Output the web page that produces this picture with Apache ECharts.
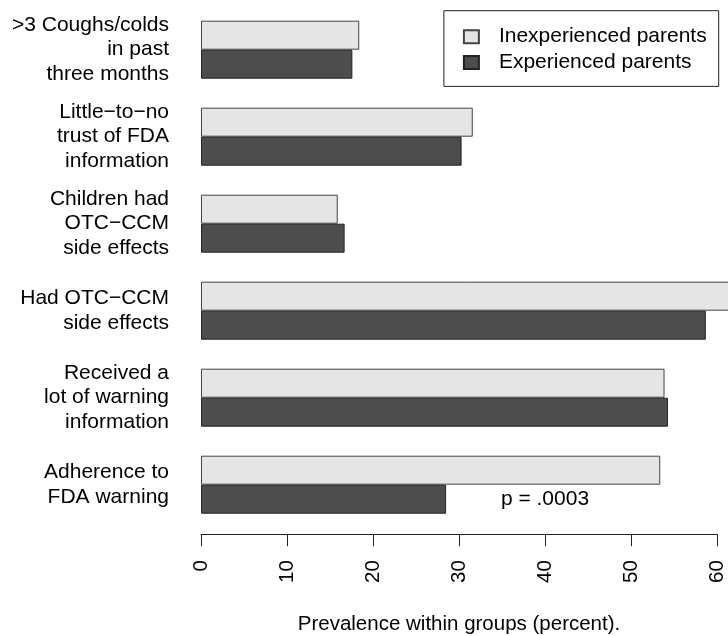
<!DOCTYPE html>
<html>
<head>
<meta charset="utf-8">
<script src="https://cdn.jsdelivr.net/npm/echarts@6/dist/echarts.min.js"></script>
<style>
html,body{margin:0;padding:0;background:#fff;}
#chart{width:728px;height:636px;}
</style>
</head>
<body>
<div id="chart"></div>
<script>
var categories = [
  '>3 Coughs/colds\nin past\nthree months',
  'Little\u2212to\u2212no\ntrust of FDA\ninformation',
  'Children had\nOTC\u2212CCM\nside effects',
  'Had OTC\u2212CCM\nside effects',
  'Received a\nlot of warning\ninformation',
  'Adherence to\nFDA warning'
];
var seriesNames = ['Inexperienced parents', 'Experienced parents'];
var inexperienced = [18.4, 31.6, 15.9, 63.0, 53.9, 53.4];
var experienced = [17.6, 30.3, 16.7, 58.7, 54.3, 28.5];
var xTicks = [0, 10, 20, 30, 40, 50, 60];
var annotationText = 'p = .0003';
var annotationX = 40;

var FONT = '"Liberation Sans", Arial, Helvetica, sans-serif';
var chart = echarts.init(document.getElementById('chart'), null, {renderer: 'canvas'});

var option = {
  backgroundColor: '#ffffff',
  animation: false,
  textStyle: {fontFamily: FONT, color: '#000'},
  grid: {left: 201, right: 11, top: 6.2, height: 522, containLabel: false, outerBoundsMode: 'none'},
  legend: {
    data: seriesNames,
    icon: 'rect',
    orient: 'vertical',
    right: 9.3,
    top: 10.7,
    padding: [14, 12, 12, 19],
    itemGap: 1.7,
    itemWidth: 15,
    itemHeight: 13,
    borderColor: '#222',
    borderWidth: 1,
    backgroundColor: '#fff',
    textStyle: {fontFamily: FONT, fontSize: 21, color: '#000', lineHeight: 24, padding: [0, 0, 0, 15]}
  },
  xAxis: {
    type: 'value',
    min: xTicks[0],
    max: xTicks[xTicks.length - 1],
    interval: 10,
    offset: 6,
    splitLine: {show: false},
    axisLine: {show: true, lineStyle: {color: '#222', width: 1}},
    axisTick: {show: true, length: 12, lineStyle: {color: '#222', width: 1}},
    axisLabel: {rotate: 90, margin: 26, fontFamily: FONT, fontSize: 20.5, color: '#000'},
    name: 'Prevalence within groups (percent).',
    nameLocation: 'middle',
    nameGap: 80,
    nameTextStyle: {fontFamily: FONT, fontSize: 20.5, color: '#000'}
  },
  yAxis: {
    type: 'category',
    data: categories,
    inverse: true,
    axisLine: {show: false},
    axisTick: {show: false},
    splitLine: {show: false},
    axisLabel: {margin: 32, fontFamily: FONT, fontSize: 21, color: '#000', lineHeight: 24.5, align: 'right'}
  },
  series: [
    {
      name: seriesNames[0],
      type: 'bar',
      data: inexperienced,
      barWidth: 29,
      barGap: '0%',
      clip: false,
      itemStyle: {color: '#E5E5E5', borderColor: '#444', borderWidth: 1}
    },
    {
      name: seriesNames[1],
      type: 'bar',
      data: experienced,
      barWidth: 29,
      barGap: '0%',
      clip: false,
      itemStyle: {color: '#4D4D4D', borderColor: '#222', borderWidth: 1},
      markPoint: {
        symbol: 'circle',
        symbolSize: 0,
        data: [{coord: [annotationX, categories[categories.length - 1]]}],
        label: {show: true, position: 'inside', formatter: annotationText,
                fontFamily: FONT, fontSize: 21, color: '#000'}
      }
    }
  ]
};
chart.setOption(option);
</script>
</body>
</html>
